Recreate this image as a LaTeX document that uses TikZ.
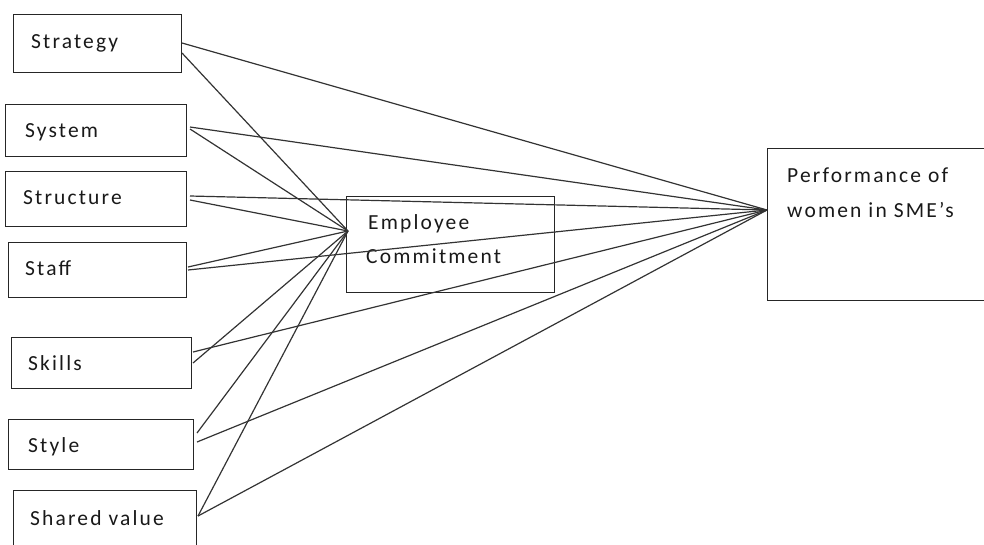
\documentclass[tikz,border=0pt]{standalone}
\usepackage{fontspec}
\setmainfont{Carlito}
\newfontfamily\lblfont[LetterSpace=10]{Carlito}
\begin{document}
\begin{tikzpicture}[x=1pt,y=-1pt,
  box/.style={draw=black!85,line width=1.4pt,rectangle,inner sep=0pt,anchor=north west},
  lbl/.style={anchor=base west,inner sep=0pt,font=\lblfont\fontsize{21.5}{24}\selectfont,text=black!90},
  link/.style={draw=black!80,line width=1.2pt}]
\useasboundingbox (0,0) rectangle (984,544);
\begin{scope}
\clip (0,0) rectangle (984,544);
% boxes
\node[box,minimum width=168pt,minimum height=58pt] (strategy) at (13,14) {};
\node[box,minimum width=181pt,minimum height=52pt] (system) at (5,104) {};
\node[box,minimum width=181pt,minimum height=55pt] (structure) at (5,171) {};
\node[box,minimum width=178pt,minimum height=55pt] (staff) at (8,242) {};
\node[box,minimum width=180pt,minimum height=51pt] (skills) at (11,337) {};
\node[box,minimum width=185pt,minimum height=50pt] (style) at (8,419) {};
\node[box,minimum width=183pt,minimum height=62pt] (shared) at (13,490) {};
\node[box,minimum width=208pt,minimum height=96pt] (emp) at (346,196) {};
\node[box,minimum width=220pt,minimum height=152pt] (perf) at (767,148) {};
% labels
\node[lbl] (strategyT) at (31,48) {Strategy};
\node[lbl] (systemT) at (25,137) {System};
\node[lbl] (structureT) at (23,204) {Structure};
\node[lbl] (staffT) at (25,275) {Staff};
\node[lbl] (skillsT) at (28,370) {Skills};
\node[lbl] (styleT) at (28,452) {Style};
\node[lbl] (sharedT) at (30,525) {Shared value};
\node[lbl] (empT1) at (368,229) {Employee};
\node[lbl] (empT2) at (366,263) {Commitment};
\node[lbl] (perfT1) at (787,182) {Performance of};
\node[lbl] (perfT2) at (787,217) {women in SME’s};
% convergence points
\coordinate (eC) at (348,231);
\coordinate (pC) at (767,210);
% line start points
\coordinate (st1) at (182,43);
\coordinate (st2) at (182,53);
\coordinate (sy1) at (190,127);
\coordinate (sy2) at (190,129);
\coordinate (sr1) at (190,196);
\coordinate (sr2) at (190,200);
\coordinate (sf1) at (188,267);
\coordinate (sf2) at (188,270);
\coordinate (sk1) at (193,352);
\coordinate (sk2) at (193,363);
\coordinate (sl1) at (197,442);
\coordinate (sl2) at (197,433);
\coordinate (sv) at (198,516);
% connectors
\draw[link] (st1) -- (pC);
\draw[link] (st2) -- (eC);
\draw[link] (sy1) -- (pC);
\draw[link] (sy2) -- (eC);
\draw[link] (sr1) -- (pC);
\draw[link] (sr2) -- (eC);
\draw[link] (sf1) -- (eC);
\draw[link] (sf2) -- (pC);
\draw[link] (sk1) -- (pC);
\draw[link] (sk2) -- (eC);
\draw[link] (sl1) -- (pC);
\draw[link] (sl2) -- (eC);
\draw[link] (sv) -- (eC);
\draw[link] (sv) -- (pC);
\end{scope}
\end{tikzpicture}
\end{document}
